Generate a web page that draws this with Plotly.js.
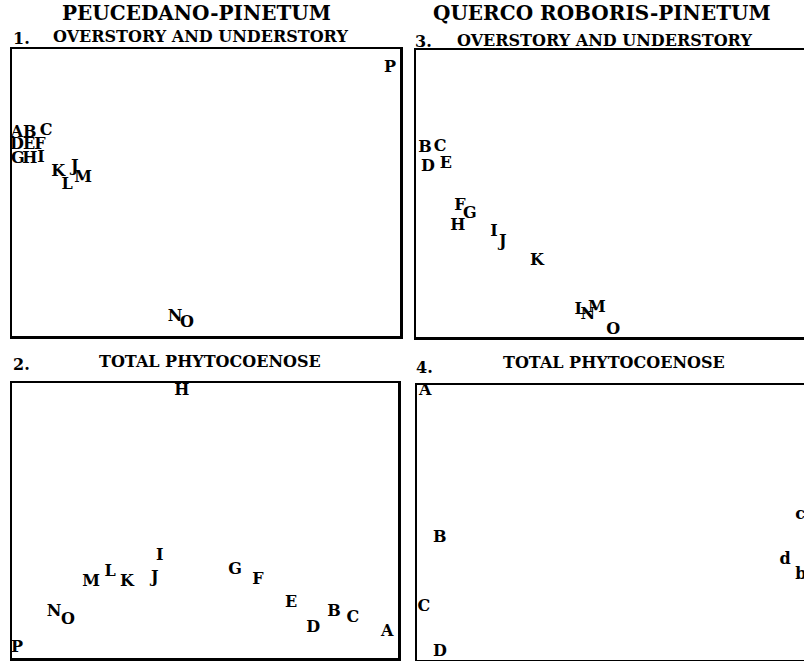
<!DOCTYPE html>
<html><head><meta charset="utf-8">
<script src="https://cdn.plot.ly/plotly-3.0.1.min.js"></script>
<style>html,body{margin:0;padding:0;background:#fff}</style>
</head><body><div id="chart" style="width:804px;height:661px"></div>
<script>
// Panel 1: Peucedano-Pinetum, overstory and understory
const p1Labels = ['A','B','C','D','E','F','G','H','I','J','K','L','M','N','O','P'];
const p1X = [1.3, 4.6, 8.8, 1.3, 4.4, 7.2, 1.5, 4.6, 7.5, 16.2, 11.9, 14.2, 18.3, 42.0, 45.1, 97.4];
const p1Y = [70.7, 70.7, 71.4, 66.6, 66.6, 66.6, 61.7, 61.7, 62.0, 58.9, 57.1, 52.6, 55.1, 6.6, 4.5, 93.4];
// Panel 2: Peucedano-Pinetum, total phytocoenose
const p2Labels = ['A','B','C','D','E','F','G','H','I','J','K','L','M','N','O','P'];
const p2X = [97.2, 83.4, 88.3, 78.0, 72.3, 63.7, 57.8, 44.0, 38.3, 37.0, 29.8, 25.4, 20.5, 10.9, 14.5, 1.3];
const p2Y = [9.5, 16.7, 14.5, 10.9, 20.0, 28.4, 32.0, 97.1, 37.1, 29.1, 27.6, 31.3, 27.6, 16.7, 13.8, 3.6];
// Panel 3: Querco roboris-Pinetum, overstory and understory
const p3Labels = ['B','C','D','E','F','G','H','I','J','K','L','M','N','O','P'];
const p3X = [2.3, 6.2, 3.1, 7.7, 11.3, 13.9, 10.8, 20.1, 22.4, 31.2, 42.3, 46.6, 44.3, 50.8, 100.5];
const p3Y = [65.9, 66.2, 59.2, 60.3, 45.6, 42.9, 38.7, 36.6, 33.1, 26.5, 9.4, 10.1, 7.7, 2.4, 93.7];
// Panel 4: Querco roboris-Pinetum, total phytocoenose
const p4Labels = ['A','B','C','D','c','d','b'];
const p4X = [2.1, 5.9, 1.8, 5.9, 99.0, 95.1, 99.2];
const p4Y = [97.8, 44.4, 19.3, 2.9, 52.7, 36.4, 30.9];

const W = 804, H = 661;
const fx = p => p / W;
const fy = p => 1 - p / H;
const SERIF = 'DejaVu Serif, Liberation Serif, serif';

function tr(lbl, x, y, xa, ya) {
  return {type:'scatter', mode:'text', x:x, y:y, text:lbl, xaxis:xa, yaxis:ya,
    textposition:'middle center', cliponaxis:false, hoverinfo:'skip', showlegend:false,
    textfont:{family:SERIF, size:16, color:'#000', weight:'bold'}};
}
const data = [
  tr(p1Labels, p1X, p1Y, 'x', 'y'),
  tr(p2Labels, p2X, p2Y, 'x2', 'y2'),
  tr(p3Labels, p3X, p3Y, 'x3', 'y3'),
  tr(p4Labels, p4X, p4Y, 'x4', 'y4')
];

function ax(d, mirror, anchor) {
  return {domain:d, range:[0,100], showgrid:false, zeroline:false, showticklabels:false,
    ticks:'', showline:true, linecolor:'#000', linewidth:2.5, mirror:mirror, anchor:anchor, fixedrange:true};
}
const layout = {
  width:W, height:H, margin:{l:0,r:0,t:0,b:0}, paper_bgcolor:'#fff', plot_bgcolor:'#fff',
  showlegend:false,
  xaxis: ax([fx(12), fx(400)], true, 'y'),
  yaxis: ax([fy(336), fy(49)], true, 'x'),
  xaxis2: ax([fx(12), fx(398)], true, 'y2'),
  yaxis2: ax([fy(658), fy(383)], true, 'x2'),
  xaxis3: ax([fx(416), 1], true, 'y3'),
  yaxis3: ax([fy(337), fy(50)], false, 'x3'),
  xaxis4: ax([fx(417), 1], true, 'y4'),
  yaxis4: ax([fy(660), fy(385)], false, 'x4'),
  annotations: [
    {text:'PEUCEDANO-PINETUM', x:fx(196), y:fy(13), size:20},
    {text:'QUERCO ROBORIS-PINETUM', x:fx(602), y:fy(13), size:20},
    {text:'1.', x:fx(21), y:fy(38), size:16},
    {text:'OVERSTORY AND UNDERSTORY', x:fx(200), y:fy(37), size:16},
    {text:'3.', x:fx(423), y:fy(41), size:16},
    {text:'OVERSTORY AND UNDERSTORY', x:fx(604), y:fy(40), size:16},
    {text:'2.', x:fx(21), y:fy(365), size:16},
    {text:'TOTAL PHYTOCOENOSE', x:fx(210), y:fy(361), size:16},
    {text:'4.', x:fx(424), y:fy(367), size:16},
    {text:'TOTAL PHYTOCOENOSE', x:fx(614), y:fy(362), size:16}
  ].map(a => ({text:a.text, x:a.x, y:a.y, xref:'paper', yref:'paper', showarrow:false,
     xanchor:'center', yanchor:'middle', font:{family:SERIF, size:a.size, color:'#000', weight:'bold'}}))
};
Plotly.newPlot('chart', data, layout, {displayModeBar:false, staticPlot:true});
</script></body></html>
